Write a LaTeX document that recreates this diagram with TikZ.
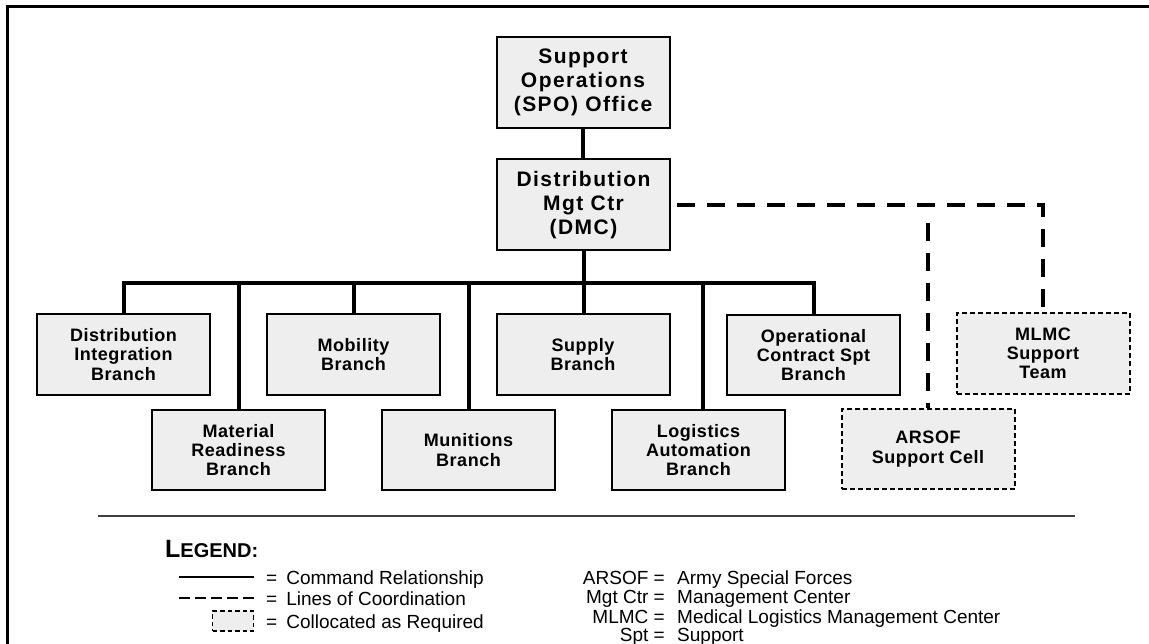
\documentclass[tikz,border=0pt]{standalone}
\usepackage{fontspec}
\setmainfont{Liberation Sans}
\newfontfamily\headfont{Liberation Sans}[LetterSpace=7]
\newfontfamily\unitfont{Liberation Sans}[LetterSpace=3]
\usetikzlibrary{calc}
\definecolor{boxfill}{HTML}{EEEEEE}
\begin{document}
\begin{tikzpicture}[x=1pt,y=-1pt,
  unitbox/.style={draw=black, line width=2pt, fill=boxfill, inner sep=0pt, align=center,
    font={\unitfont\bfseries\fontsize{18}{19.3}\selectfont}},
  headbox/.style={unitbox, minimum width=173pt, minimum height=91pt,
    font={\headfont\bfseries\fontsize{21}{24}\selectfont}},
  branchbox/.style={unitbox, minimum width=173pt, minimum height=80pt},
  collocbox/.style={branchbox, dash pattern=on 5pt off 3pt},
  cmdline/.style={line width=4pt},
  coordline/.style={line width=4.5pt, dash pattern=on 18pt off 12pt},
  legtxt/.style={inner sep=0pt, font={\fontsize{19}{19}\selectfont}}]

\useasboundingbox (0,0) rectangle (1149,644);
\fill[white] (0,0) rectangle (1149,644);

% frame: top and left edges
\draw[line width=3pt] (7,644) -- (7,7) -- (1149,7);

% headquarters
\node[headbox] (spo) at (583,82.5) {Support\\Operations\\(SPO) Office};
\node[headbox] (dmc) at (583.5,205) {Distribution\\Mgt Ctr\\(DMC)};

% branches, upper row
\node[branchbox] (dist) at (123.5,354.5) {Distribution\\Integration\\Branch};
\node[branchbox] (mob)  at (353.5,354.5) {Mobility\\Branch};
\node[branchbox] (sup)  at (583,354.5)   {Supply\\Branch};
\node[branchbox] (oper) at (813.5,355)   {Operational\\Contract Spt\\Branch};
% branches, lower row
\node[branchbox] (mat)  at (238.5,450) {Material\\Readiness\\Branch};
\node[branchbox] (mun)  at (468.5,450) {Munitions\\Branch};
\node[branchbox] (logi) at (698.5,450) {Logistics\\Automation\\Branch};

% collocated elements
\node[collocbox] (mlmc)  at (1043,353.5) {MLMC\\Support\\Team};
\node[collocbox] (arsof) at (928,449)    {ARSOF\\Support Cell};

% command relationships
\coordinate (bus) at (583,283);
\draw[cmdline] (spo.south) -- (spo.south |- dmc.north);
\draw[cmdline] (dmc.south) -- (dmc.south |- sup.north);
\draw[cmdline] (dist.north) -- (dist.north |- bus) -- (oper.north |- bus) -- (oper.north);
\foreach \b in {mob,mat,mun}
  \draw[cmdline] (\b.north) -- (\b.north |- bus);
\draw[cmdline] ([xshift=4pt]logi.north) -- ([xshift=4pt]logi.north |- bus);

% lines of coordination
\coordinate (tap) at ($(arsof.north |- dmc.east)+(0,18)$);
\draw[coordline, dash phase=24pt] (dmc.east) -- (dmc.east -| mlmc.north) -- (mlmc.north);
\draw[coordline] (tap) -- (arsof.north);

% separator
\draw[line width=1.5pt, black!75] (98,516) -- (1075,516);

% legend
\node[anchor=base west, inner sep=0pt] (legend) at (165,557)
  {\bfseries{\fontsize{25}{25}\selectfont L}{\fontsize{20}{20}\selectfont EGEND:}};

\coordinate (solA) at (179,577);  \coordinate (solB) at (254,577);
\draw[line width=2pt] (solA) -- (solB);
\coordinate (dashA) at (179,598); \coordinate (dashB) at (254,598);
\draw[line width=2pt, dash pattern=on 11pt off 5pt] (dashA) -- (dashB);
\node[unitbox, line width=1.8pt, dash pattern=on 4.5pt off 3pt, minimum width=41pt, minimum height=20pt] (sample) at (233,621) {};

\node[legtxt, anchor=base west] (k1) at (266,584) {=\hspace{9pt}Command Relationship};
\node[legtxt, anchor=base west] (k2) at (266,605) {=\hspace{9pt}Lines of Coordination};
\node[legtxt, anchor=base west] (k3) at (266,628) {=\hspace{9pt}Collocated as Required};

\node[legtxt, anchor=base east] (a1) at (665,584) {ARSOF =};
\node[legtxt, anchor=base east] (a2) at (665,603.5) {Mgt Ctr =};
\node[legtxt, anchor=base east] (a3) at (665,623) {MLMC =};
\node[legtxt, anchor=base east] (a4) at (665,641) {Spt =};
\node[legtxt, anchor=base west] (d1) at (677,584) {Army Special Forces};
\node[legtxt, anchor=base west] (d2) at (677,603.5) {Management Center};
\node[legtxt, anchor=base west] (d3) at (677,623) {Medical Logistics Management Center};
\node[legtxt, anchor=base west] (d4) at (677,641) {Support};
\end{tikzpicture}
\end{document}
